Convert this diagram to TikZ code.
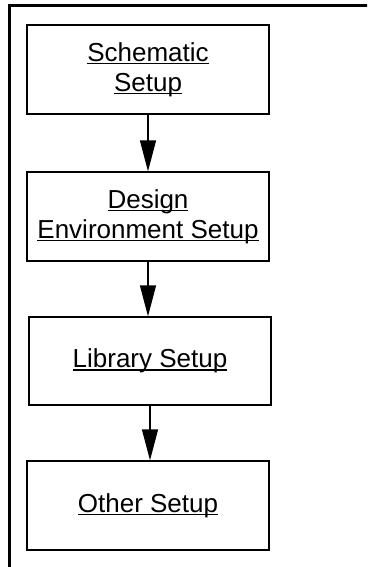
\documentclass[tikz,border=0pt]{standalone}
\usepackage{fontspec}
\setmainfont{Liberation Sans}
\usetikzlibrary{arrows.meta}

\newcommand{\undl}[1]{\setbox0\hbox{#1}\rlap{\rule[-3pt]{\wd0}{1.3pt}}\box0}

\tikzset{
  stepbox/.style={draw, line width=1.3pt, minimum width=242pt, minimum height=89pt,
    inner sep=0pt, align=center, font=\fontsize{26}{30}\selectfont},
  flow/.style={line width=1.3pt, -{Triangle[length=31pt, width=16pt]}}
}

\begin{document}
\begin{tikzpicture}[x=1pt, y=-1pt]

\useasboundingbox (0, 0) rectangle (367, 567);
\clip (0, 0) rectangle (367, 567);

\draw[line width=2.6pt] (9.5, 600) -- (9.5, 5.5) -- (400, 5.5);

\node[stepbox] (schem) at (148, 69.5) {\undl{Schematic}\\\undl{Setup}};
\node[stepbox] (env) at (148, 216.5) {\undl{Design}\\\undl{Environment Setup}};
\node[stepbox, minimum height=88pt] (lib) at (150, 361) {\undl{Library Setup}};
\node[stepbox] (other) at (148, 505.5) {\undl{Other Setup}};

\draw[flow] (schem) -- (env);
\draw[flow] (env) -- (env.south |- lib.north);
\draw[flow] (lib) -- (lib.south |- other.north);

\end{tikzpicture}
\end{document}
